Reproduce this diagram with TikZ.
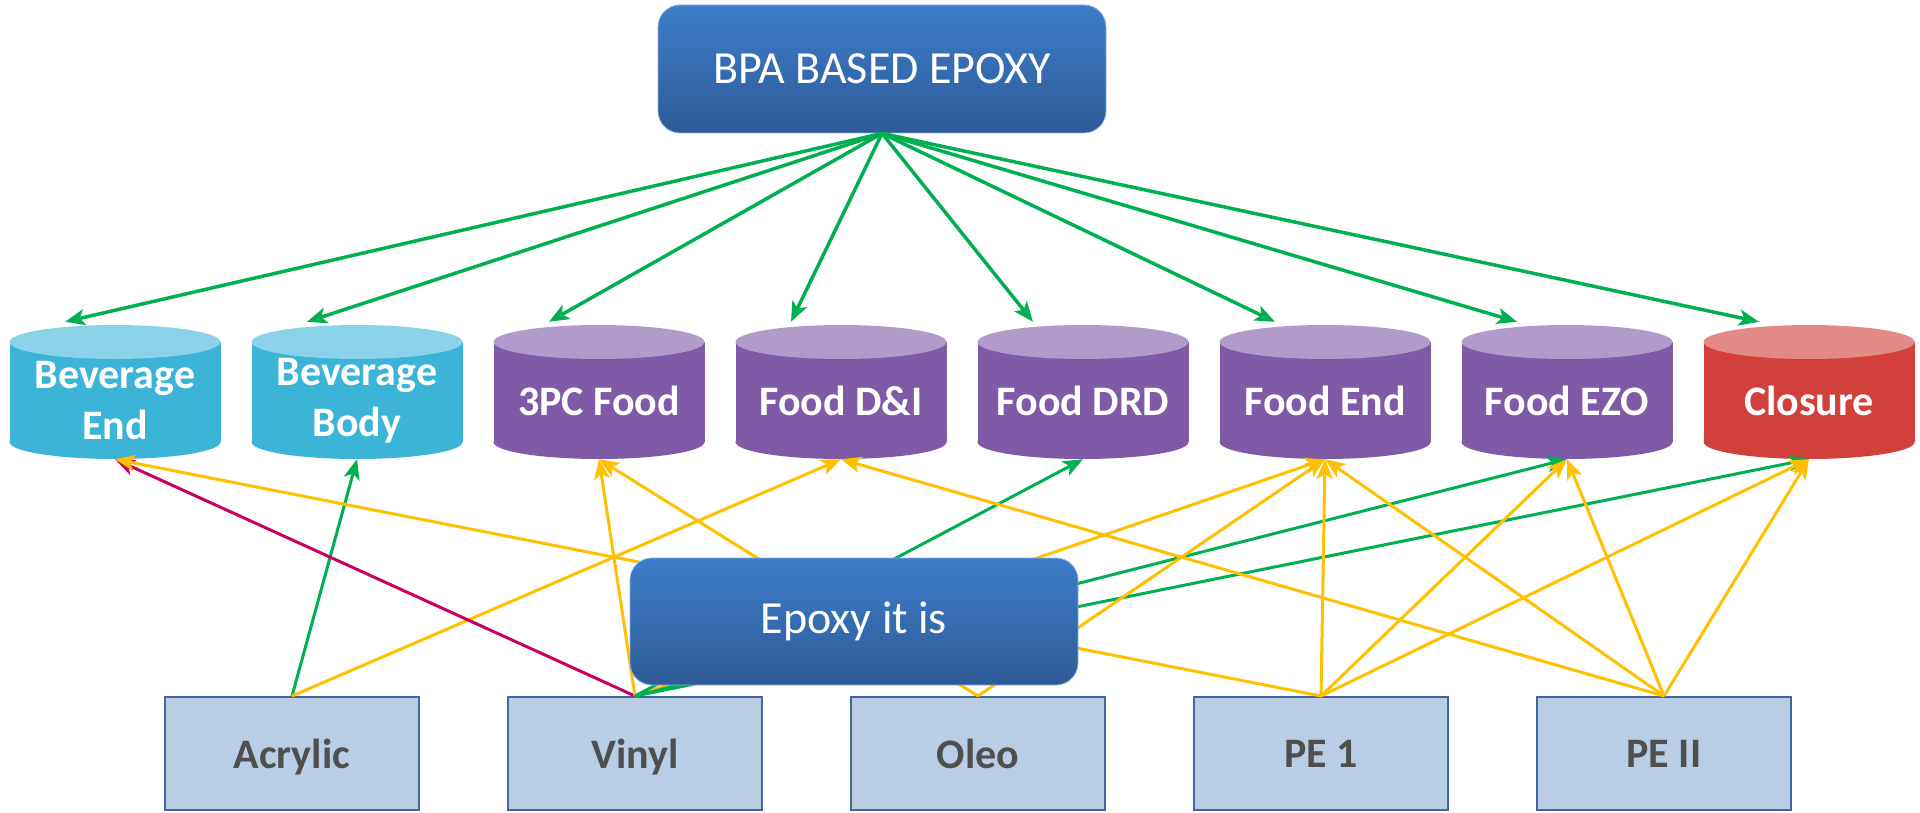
\documentclass[tikz,border=0pt]{standalone}
\usepackage{fontspec}
\setmainfont{Carlito}
\usetikzlibrary{arrows.meta,positioning,calc}
\definecolor{linkgreen}{HTML}{00B050}
\definecolor{linkgold}{HTML}{FFC000}
\definecolor{linkberry}{HTML}{C8005F}
\definecolor{bevbody}{HTML}{3BB4D8}
\definecolor{bevtop}{HTML}{89D2E7}
\definecolor{foodbody}{HTML}{7E5AA7}
\definecolor{foodtop}{HTML}{B09BCA}
\definecolor{closebody}{HTML}{D2403B}
\definecolor{closetop}{HTML}{E38A86}
\definecolor{boxtop}{HTML}{3D7DCA}
\definecolor{boxbottom}{HTML}{2D5B97}
\definecolor{resinfill}{HTML}{B9CDE5}
\definecolor{resinline}{HTML}{41679C}
\definecolor{resinink}{HTML}{4F4F4F}

\begin{document}
\begin{tikzpicture}[x=1pt,y=-1pt,
    bluebox/.style={rectangle,rounded corners=22pt,top color=boxtop,
      bottom color=boxbottom,draw=boxtop!60!white,line width=.8pt,
      minimum width=448pt,minimum height=128pt,text=white,
      font=\fontsize{46}{50}\selectfont},
    cyltext/.style={rectangle,minimum width=211pt,minimum height=117pt,
      inner sep=0pt,align=center,text=white,
      font=\fontsize{42}{51}\selectfont\bfseries},
    resin/.style={rectangle,fill=resinfill,draw=resinline,line width=2pt,
      minimum width=254pt,minimum height=113pt,text=resinink,text depth=0pt,
      font=\fontsize{42}{50}\selectfont\bfseries},
    fromtop/.style={-{Stealth[length=20pt,width=16pt,inset=5pt]},
      linkgreen,line width=3.5pt},
    feed/.style={-{Stealth[length=20pt,width=16pt,inset=5pt]},
      line width=3pt}]
    \useasboundingbox (0,0) rectangle (1920,813);

    % coating segments
    \foreach \cx/\nm/\bc/\tc/\txt in {
        115/bevend/bevbody/bevtop/{Beverage\\End},
        357/bevbody/bevbody/bevtop/{Beverage\\Body},
        599/food3pc/foodbody/foodtop/{3PC Food},
        841/fooddi/foodbody/foodtop/{Food D\&I},
        1083/fooddrd/foodbody/foodtop/{Food DRD},
        1325/foodend/foodbody/foodtop/{Food End},
        1567/foodezo/foodbody/foodtop/{Food EZO},
        1809/closure/closebody/closetop/{Closure}}{
      \fill[\bc] (\cx-105.5,342) rectangle (\cx+105.5,442);
      \fill[\bc] (\cx,442) ellipse[x radius=105.5,y radius=17];
      \fill[\tc] (\cx,342) ellipse[x radius=105.5,y radius=17];
      \node[cyltext] (\nm) at (\cx,400.5) {\txt};
    }

    % resin families
    \node[resin] (acrylic) at (292,753.5) {Acrylic};
    \node[resin] (vinyl) at (635,753.5) {Vinyl};
    \node[resin] (oleo) at (978,753.5) {Oleo};
    \node[resin] (pe1) at (1321,753.5) {PE 1};
    \node[resin] (pe2) at (1664,753.5) {PE II};

    \node[bluebox] (bpa) at (882,69) {BPA BASED EPOXY};

    \foreach \nm in {bevend,bevbody,food3pc,fooddi,fooddrd,foodend,foodezo,closure}
      \draw[fromtop] (bpa.south) -- ($(\nm.north)+(-50,-20)$);

    \foreach \src/\dst/\col in {
        acrylic/bevbody/linkgreen, acrylic/fooddi/linkgold,
        vinyl/bevend/linkberry, vinyl/food3pc/linkgold,
        vinyl/foodend/linkgold, vinyl/fooddrd/linkgreen,
        vinyl/foodezo/linkgreen, vinyl/closure/linkgreen,
        oleo/food3pc/linkgold, oleo/foodend/linkgold,
        pe1/bevend/linkgold, pe1/foodend/linkgold,
        pe1/foodezo/linkgold, pe1/closure/linkgold,
        pe2/fooddi/linkgold, pe2/foodend/linkgold,
        pe2/foodezo/linkgold, pe2/closure/linkgold}
      \draw[feed,\col] (\src.north) -- (\dst.south);

    \node[bluebox,minimum height=127pt] (epoxy) at (854,621.5) {Epoxy it is};
  \end{tikzpicture}
\end{document}
